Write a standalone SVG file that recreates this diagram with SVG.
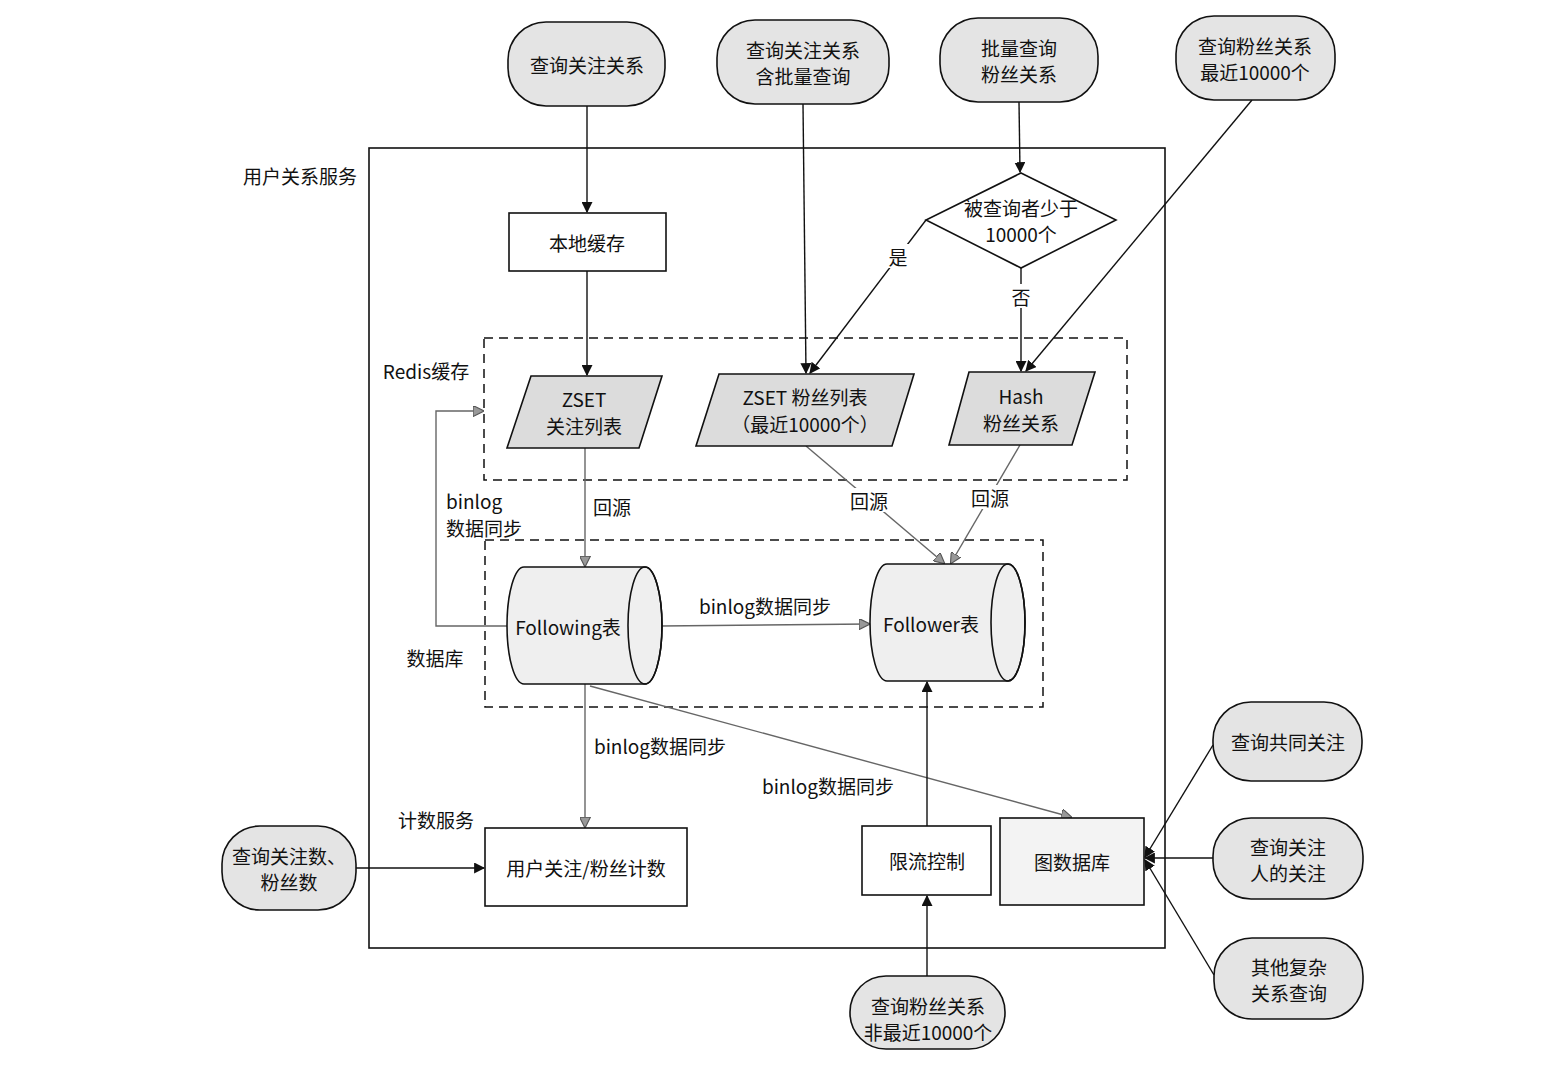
<svg xmlns="http://www.w3.org/2000/svg" width="1556" height="1075" viewBox="0 0 1556 1075">
<style>
text{font-family:"Noto Sans CJK SC","Noto Sans",sans-serif;font-size:19px;fill:#111;text-anchor:middle;dominant-baseline:central}
.lbl{text-anchor:start}
.term{fill:#e4e4e4;stroke:#111;stroke-width:1.6}
.box{fill:#fff;stroke:#111;stroke-width:1.6}
.para{fill:#dcdcdc;stroke:#111;stroke-width:1.6}
.cyl{fill:#efefef;stroke:#111;stroke-width:1.6}
.grp{fill:none;stroke:#111;stroke-width:1.5;stroke-dasharray:9 6}
.blk{fill:none;stroke:#111;stroke-width:1.4}
.gry{fill:none;stroke:#666;stroke-width:1.4}
.blk.a{marker-end:url(#ab)}
.gry.a{marker-end:url(#ag)}
.bg{fill:#fff}
</style>
<defs>
<marker id="ab" viewBox="0 0 10 10" refX="9" refY="5" markerWidth="11" markerHeight="11" markerUnits="userSpaceOnUse" orient="auto"><path d="M0,0 L10,5 L0,10 z" fill="#111"/></marker>
<marker id="ag" viewBox="0 0 10 10" refX="9" refY="5" markerWidth="11" markerHeight="11" markerUnits="userSpaceOnUse" orient="auto"><path d="M0,0 L10,5 L0,10 z" fill="#999" stroke="#555" stroke-width="1"/></marker>
</defs>

<rect width="1556" height="1075" fill="#fff"/>

<g id="service">
<rect x="369" y="148" width="796" height="800" fill="none" stroke="#111" stroke-width="1.6"/>
<text x="300" y="175">用户关系服务</text>
</g>
<g id="redis-group">
<rect class="grp" x="484" y="338" width="643" height="142"/>
<text x="426" y="370">Redis缓存</text>
</g>
<g id="db-group">
<rect class="grp" x="485" y="540" width="558" height="167"/>
<text x="435" y="657">数据库</text>
</g>
<g id="count-label"><text x="436" y="819">计数服务</text></g>

<g id="connectors">
<path class="blk a" d="M587,106 L587,212"/>
<path class="blk a" d="M587,271 L587,375"/>
<path class="blk a" d="M803,104 L806,373"/>
<path class="blk a" d="M1019,102 L1020,172"/>
<path class="blk a" d="M926,220 L810,373"/>
<rect class="bg" x="886" y="244" width="24" height="24"/>
<text x="898" y="256">是</text>
<path class="blk a" d="M1021,268 L1021,371"/>
<rect class="bg" x="1009" y="284" width="24" height="24"/>
<text x="1021" y="296">否</text>
<path class="blk a" d="M1252,100 L1026,371"/>

<path class="gry a" d="M585,448 L585,566"/>
<text x="612" y="506">回源</text>
<path class="gry a" d="M806,446 L944,563"/>
<rect class="bg" x="849" y="488" width="40" height="24"/>
<text x="869" y="500">回源</text>
<path class="gry a" d="M1020,445 L951,563"/>
<rect class="bg" x="970" y="485" width="40" height="24"/>
<text x="990" y="497">回源</text>

<path class="gry a" d="M507,626 L436,626 L436,411 L483,411"/>
<text class="lbl" x="446" y="500">binlog</text>
<text class="lbl" x="446" y="527">数据同步</text>

<path class="gry a" d="M661,626 L869,624"/>
<text x="765" y="605">binlog数据同步</text>
<path class="gry a" d="M585,684 L585,827"/>
<text x="660" y="745">binlog数据同步</text>
<path class="gry a" d="M590,686 L1071,817"/>
<text x="828" y="785">binlog数据同步</text>

<path class="blk a" d="M927,826 L927,682"/>
<path class="blk a" d="M927,976 L927,896"/>
<path class="blk a" d="M356,868 L484,868"/>
<path class="blk a" d="M1213,745 L1145,857"/>
<path class="blk a" d="M1213,858 L1145,858"/>
<path class="blk a" d="M1214,975 L1145,860"/>
</g>

<g id="n-q1"><rect class="term" x="508" y="22" width="157" height="84" rx="38" ry="38"/><text x="587" y="64">查询关注关系</text></g>
<g id="n-q2"><rect class="term" x="717" y="20" width="172" height="84" rx="38" ry="38"/><text x="803" y="49">查询关注关系</text><text x="803" y="75">含批量查询</text></g>
<g id="n-q3"><rect class="term" x="940" y="18" width="158" height="84" rx="38" ry="38"/><text x="1019" y="47">批量查询</text><text x="1019" y="73">粉丝关系</text></g>
<g id="n-q4"><rect class="term" x="1176" y="16" width="159" height="84" rx="38" ry="38"/><text x="1255" y="45">查询粉丝关系</text><text x="1255" y="71">最近10000个</text></g>

<g id="n-local"><rect class="box" x="509" y="213" width="157" height="58"/><text x="587" y="242">本地缓存</text></g>

<g id="n-diamond"><path d="M1021,173 L1116,220 L1021,268 L926,220 z" fill="#fff" stroke="#111" stroke-width="1.6"/><text x="1021" y="207">被查询者少于</text><text x="1021" y="233">10000个</text></g>

<g id="n-zset1"><path class="para" d="M531,376 L662,376 L639,448 L507,448 z"/><text x="584" y="398">ZSET</text><text x="584" y="425">关注列表</text></g>
<g id="n-zset2"><path class="para" d="M719,374 L914,374 L892,446 L696,446 z"/><text x="805" y="396">ZSET 粉丝列表</text><text x="805" y="423">（最近10000个）</text></g>
<g id="n-hash"><path class="para" d="M969,372 L1095,372 L1072,445 L949,445 z"/><text x="1021" y="395">Hash</text><text x="1021" y="422">粉丝关系</text></g>

<g id="n-following">
<path class="cyl" d="M524,567 L645,567 A17,58.5 0 0 1 645,684 L524,684 A17,58.5 0 0 1 524,567 z"/>
<ellipse cx="645" cy="625.5" rx="17" ry="58.5" fill="none" stroke="#111" stroke-width="1.6"/>
<text x="568" y="626">Following表</text>
</g>
<g id="n-follower">
<path class="cyl" d="M887,564 L1008,564 A17,58.5 0 0 1 1008,681 L887,681 A17,58.5 0 0 1 887,564 z"/>
<ellipse cx="1008" cy="622.5" rx="17" ry="58.5" fill="none" stroke="#111" stroke-width="1.6"/>
<text x="931" y="623">Follower表</text>
</g>

<g id="n-count"><rect class="box" x="485" y="828" width="202" height="78"/><text x="586" y="867">用户关注/粉丝计数</text></g>
<g id="n-limit"><rect class="box" x="862" y="826" width="129" height="69"/><text x="927" y="860">限流控制</text></g>
<g id="n-graph"><rect class="box" x="1000" y="818" width="144" height="87" style="fill:#f3f3f3"/><text x="1072" y="861">图数据库</text></g>

<g id="n-qcount"><rect class="term" x="222" y="826" width="134" height="84" rx="38" ry="38"/><text x="289" y="855">查询关注数、</text><text x="289" y="881">粉丝数</text></g>
<g id="n-qfans"><rect class="term" x="850" y="976" width="155" height="73" rx="36" ry="36"/><text x="928" y="1005">查询粉丝关系</text><text x="928" y="1031">非最近10000个</text></g>
<g id="n-common"><rect class="term" x="1213" y="702" width="149" height="79" rx="38" ry="38"/><text x="1288" y="741">查询共同关注</text></g>
<g id="n-fof"><rect class="term" x="1213" y="818" width="150" height="81" rx="38" ry="38"/><text x="1288" y="846">查询关注</text><text x="1288" y="872">人的关注</text></g>
<g id="n-other"><rect class="term" x="1214" y="938" width="149" height="81" rx="38" ry="38"/><text x="1289" y="966">其他复杂</text><text x="1289" y="992">关系查询</text></g>
</svg>
